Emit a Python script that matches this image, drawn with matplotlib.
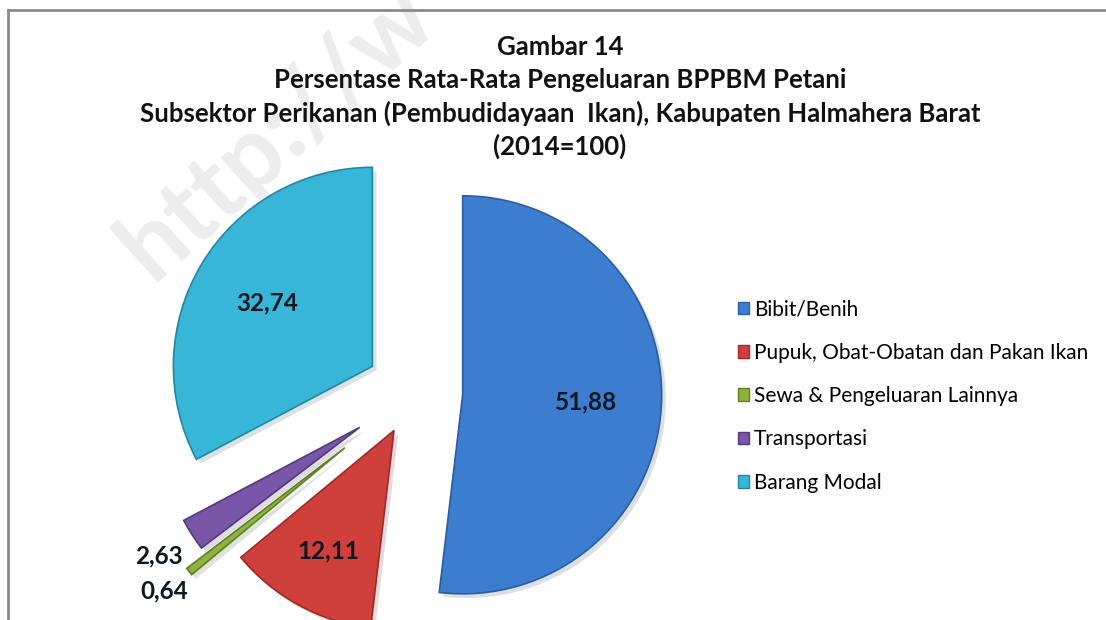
import matplotlib.pyplot as plt
import matplotlib.patheffects as pe
from matplotlib.patches import Patch
import numpy as np

# data
categories = ["Bibit/Benih", "Pupuk, Obat-Obatan dan Pakan Ikan",
              "Sewa & Pengeluaran Lainnya", "Transportasi", "Barang Modal"]
values = [51.88, 12.11, 0.64, 2.63, 32.74]
title_lines = ["Gambar 14",
               "Persentase Rata-Rata Pengeluaran BPPBM Petani",
               "Subsektor Perikanan (Pembudidayaan  Ikan), Kabupaten Halmahera Barat",
               "(2014=100)"]

# style
colors = ["#3d7dcf", "#cf3f3b", "#8cb43f", "#7856a8", "#38b6d8"]
edges = ["#2a5e9e", "#9c2a27", "#5f7f25", "#533a7a", "#2287a3"]
explode = [0.24, 0.22, 0.45, 0.33, 0.25]
label_dist = [0.62, 0.69, 1.16, 1.2, 0.62]

W, H = 1106, 620
cx, cy, R = 415, 392, 199   # pie centre and radius in pixels

plt.rcParams['font.family'] = ['Lato', 'DejaVu Sans']

fig = plt.figure(figsize=(W / 100, H / 100), dpi=100)
fig.patch.set_facecolor("white")
ax = fig.add_axes([0, 0, 1, 1])

wedges, _ = ax.pie(values, colors=colors, explode=explode, startangle=90,
                   counterclock=False, radius=1,
                   wedgeprops=dict(linewidth=1.2))
for w, ec in zip(wedges, edges):
    w.set_edgecolor(ec)
    w.set_path_effects([pe.SimplePatchShadow(offset=(3, -3), alpha=0.15),
                        pe.Normal()])

# value labels
for w, v, d in zip(wedges, values, label_dist):
    tm = np.deg2rad((w.theta1 + w.theta2) / 2)
    x = w.center[0] + d * w.r * np.cos(tm)
    y = w.center[1] + d * w.r * np.sin(tm)
    ax.text(x, y, f"{v:.2f}".replace(".", ","), ha="center", va="center",
            fontsize=17.5, fontweight="bold", color="#101820")

ax.set_xlim(-cx / R, (W - cx) / R)
ax.set_ylim((cy - H) / R, cy / R)
ax.set_aspect("equal")
ax.axis("off")

# watermark behind the pie (runs off the top edge, as in the source image)
fig.text(152 / W, 1 - 282 / H, "http://w", fontsize=72, fontweight="bold",
         color="#ededed", rotation=42, rotation_mode="anchor",
         ha="left", va="baseline", zorder=-1)

# title
for i, line in enumerate(title_lines):
    fig.text(560 / W, 1 - (47 + 33 * i) / H, line, ha="center", va="center",
             fontsize=18.5, fontweight="bold", color="#111111")

# legend
handles = [Patch(facecolor=c, edgecolor=e) for c, e in zip(colors, edges)]
fig.legend(handles, categories, loc="center left",
           bbox_to_anchor=(738 / W, 1 - 396 / H), frameon=False,
           fontsize=15, handlelength=0.55, handleheight=0.55,
           handletextpad=0.2, labelspacing=1.12, borderpad=0,
           borderaxespad=0)

# picture frame (top and left)
fig.add_artist(plt.Line2D([8 / W, 1], [1 - 10 / H, 1 - 10 / H],
                          color="#8a8a8a", lw=2))
fig.add_artist(plt.Line2D([8 / W, 8 / W], [0, 1 - 10 / H],
                          color="#8a8a8a", lw=2))

fig.savefig("out.png", dpi=100)
